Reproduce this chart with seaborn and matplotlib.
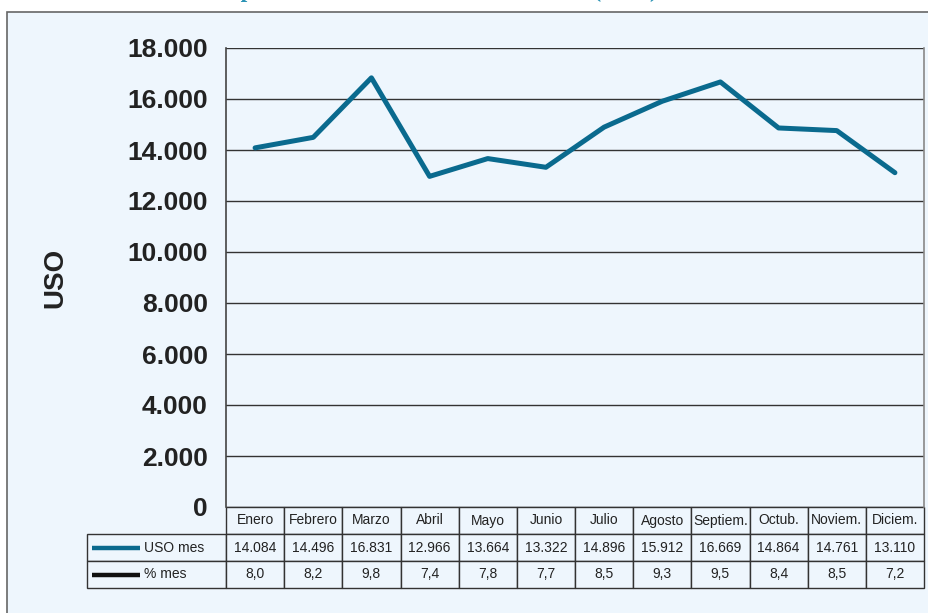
import pandas as pd
import matplotlib.pyplot as plt
import seaborn as sns
from matplotlib.patches import Rectangle
from matplotlib.table import Table

# Data
meses = ["Enero", "Febrero", "Marzo", "Abril", "Mayo", "Junio", "Julio",
         "Agosto", "Septiem.", "Octub.", "Noviem.", "Diciem."]
uso_mes = [14084, 14496, 16831, 12966, 13664, 13322, 14896, 15912, 16669, 14864, 14761, 13110]
pct_mes = [8.0, 8.2, 9.8, 7.4, 7.8, 7.7, 8.5, 9.3, 9.5, 8.4, 8.5, 7.2]
y_ticks = [0, 2000, 4000, 6000, 8000, 10000, 12000, 14000, 16000, 18000]
row_labels = ["USO mes", "% mes"]
title = "Comportamiento mensual del consumo (USO)"

bg = '#eef6fd'
teal = '#0a6a8e'
edge = '#333333'

W, H = 929, 613


def fmt_miles(v):
    return f"{v:,}".replace(',', '.')


sns.set_style('white')
plt.rcParams['font.family'] = ['Liberation Sans', 'DejaVu Sans']

fig = plt.figure(figsize=(W / 100, H / 100), dpi=100, facecolor='white')

# light blue panel behind everything
fig.add_artist(Rectangle((7 / W, -0.05), 1.0, 1 - 12 / H + 0.05, transform=fig.transFigure,
                         facecolor=bg, edgecolor='#666666', lw=1.2, zorder=0))

# title, mostly cut off by the top edge (as in the source page)
fig.text(425 / W, 1 + 3 / H, title, ha='center', va='baseline', fontsize=17,
         fontweight='bold', color='#2b93b5', family=['Liberation Serif', 'DejaVu Serif'])

# plot area in pixels: x 226-924, y 48-507
px0, px1, py0, py1 = 226, 924, 48, 507
aw, ah = px1 - px0, py1 - py0
ax = fig.add_axes([px0 / W, 1 - py1 / H, aw / W, ah / H])
ax.set_facecolor(bg)

df = pd.DataFrame({'mes': range(len(meses)), 'uso': uso_mes})
sns.lineplot(data=df, x='mes', y='uso', color=teal, lw=3.6, ax=ax, zorder=3)

ax.set_xlim(-0.5, len(meses) - 0.5)
ax.set_ylim(0, 18000)
ax.set_xticks([])
ax.set_xlabel('')
ax.set_yticks(y_ticks)
ax.set_yticklabels([fmt_miles(v) for v in y_ticks], fontsize=19, fontweight='bold', color='#222222')
ax.tick_params(axis='y', length=0, pad=13)
ax.yaxis.grid(True, color=edge, lw=1.0)
ax.set_axisbelow(True)
ax.set_ylabel('USO', fontsize=20, fontweight='bold', color='#222222')
ax.yaxis.set_label_coords((68 - px0) / aw, 0.5)

for s in ['top', 'bottom']:
    ax.spines[s].set_visible(False)
ax.spines['left'].set_color('#444444')
ax.spines['right'].set_color('#888888')
ax.spines['left'].set_linewidth(1.2)
ax.spines['right'].set_linewidth(1.2)

# data table under the plot
lab_w = px0 - 87
col_w = aw / len(meses)
row_h = 27
tbl = Table(ax, bbox=[(87 - px0) / aw, -3 * row_h / ah, (px1 - 87) / aw, 3 * row_h / ah])
for j, m in enumerate(meses):
    tbl.add_cell(0, j + 1, width=col_w, height=row_h, text=m, loc='center', facecolor=bg)
cell_rows = [[fmt_miles(v) for v in uso_mes], [f"{v:.1f}".replace('.', ',') for v in pct_mes]]
for i, vals in enumerate(cell_rows):
    tbl.add_cell(i + 1, 0, width=lab_w, height=row_h, text='', facecolor=bg)
    for j, v in enumerate(vals):
        tbl.add_cell(i + 1, j + 1, width=col_w, height=row_h, text=v, loc='center', facecolor=bg)
tbl.auto_set_font_size(False)
tbl.set_fontsize(10)
for cell in tbl.get_celld().values():
    cell.set_edgecolor(edge)
    cell.set_linewidth(1.0)
    cell.get_text().set_color('#222222')
ax.add_table(tbl)

# legend keys inside the row-label cells
for i, (lab, col) in enumerate(zip(row_labels, [teal, '#111111'])):
    yc = (py1 - (507 + row_h * (i + 1.5))) / ah
    ax.plot([(92 - px0) / aw, (140 - px0) / aw], [yc, yc], color=col, lw=3.2,
            transform=ax.transAxes, clip_on=False, solid_capstyle='butt')
    ax.text((144 - px0) / aw, yc, lab, transform=ax.transAxes, ha='left', va='center',
            fontsize=10, color='#222222')

fig.savefig('out.png', dpi=100, facecolor='white')
